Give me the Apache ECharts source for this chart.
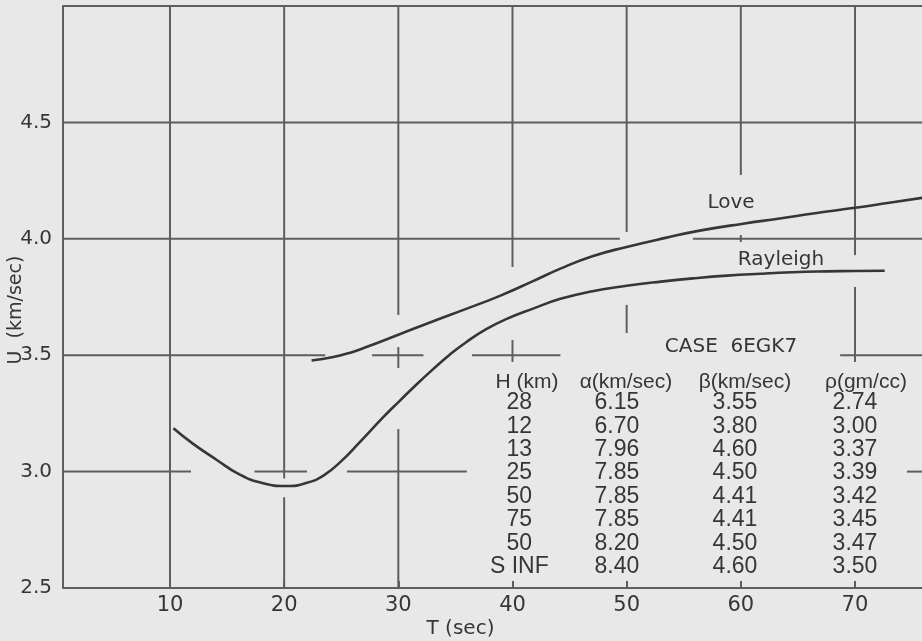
<!DOCTYPE html>
<html>
<head>
<meta charset="utf-8">
<title>CASE 6EGK7 group velocity</title>
<script src="https://cdn.jsdelivr.net/npm/echarts@6/dist/echarts.min.js"></script>
<style>
  html, body { margin: 0; padding: 0; background: #e8e8e8; }
  #main { width: 922px; height: 641px; }
</style>
</head>
<body>
<div id="main"></div>
<script>
// Tick values for both axes
const periodTicks = [10, 20, 30, 40, 50, 60, 70];
const velocityTicks = [2.5, 3.0, 3.5, 4.0, 4.5];

// Love-wave group velocity U (km/sec) against period T (sec)
const loveT = [22.4, 24.3, 25.8, 27.2, 30.0, 33.0, 36.0, 38.9, 41.8, 44.2, 47.0, 50.0, 53.5, 56.4, 60.2, 63.4, 66.5, 70.0, 73.0, 75.9];
const loveU = [3.477, 3.492, 3.511, 3.535, 3.588, 3.645, 3.70, 3.755, 3.818, 3.872, 3.925, 3.965, 4.005, 4.035, 4.065, 4.087, 4.11, 4.133, 4.155, 4.176];

// Rayleigh-wave group velocity U (km/sec) against period T (sec)
const rayleighT = [10.3, 12.0, 14.1, 16.0, 18.0, 20.2, 22.0, 23.5, 25.0, 26.5, 28.7, 30.1, 31.5, 33.0, 34.5, 36.0, 37.7, 39.5, 41.8, 44.2, 47.0, 50.0, 53.0, 55.8, 58.8, 61.7, 64.5, 67.5, 70.0, 72.6];
const rayleighU = [3.186, 3.12, 3.05, 2.99, 2.952, 2.938, 2.952, 2.985, 3.045, 3.12, 3.235, 3.303, 3.37, 3.438, 3.502, 3.558, 3.612, 3.656, 3.70, 3.742, 3.775, 3.798, 3.816, 3.83, 3.842, 3.85, 3.856, 3.86, 3.862, 3.863];

// Layered earth model, CASE 6EGK7
const modelTitle = 'CASE  6EGK7';
const modelHeaders = ['H (km)', 'α(km/sec)', 'β(km/sec)', 'ρ(gm/cc)'];
const layerH = ['28', '12', '13', '25', '50', '75', '50', 'S INF'];
const layerAlpha = ['6.15', '6.70', '7.96', '7.85', '7.85', '7.85', '8.20', '8.40'];
const layerBeta = ['3.55', '3.80', '4.60', '4.50', '4.41', '4.41', '4.50', '4.60'];
const layerRho = ['2.74', '3.00', '3.37', '3.39', '3.42', '3.45', '3.47', '3.50'];

// Axis extents
const T_MIN = 0.628, T_MAX = 75.87;
const U_MIN = 2.5, U_MAX = 5.0;

// Hand-ruled grid: horizontal rules [U, T1, T2] and vertical rules [T, U1, U2],
// broken where the curves and the lettering pass.
const horizontalRules = [
  [5.0, T_MIN, T_MAX],
  [4.5, T_MIN, T_MAX],
  [4.0, T_MIN, 49.4], [4.0, 55.8, T_MAX],
  [3.5, T_MIN, 23.6], [3.5, 27.7, 32.2], [3.5, 36.45, 44.2], [3.5, 68.7, T_MAX],
  [3.0, T_MIN, 11.84], [3.0, 17.4, 22.0], [3.0, 25.5, 36.0], [3.0, 74.55, T_MAX]
];
const verticalRules = [
  [10, U_MIN, U_MAX],
  [20, 2.97, U_MAX], [20, U_MIN, 2.89],
  [30, 3.673, U_MAX], [30, 3.445, 3.535], [30, U_MIN, 3.183],
  [40, 3.879, U_MAX], [40, 3.471, 3.565],
  [50, 4.029, U_MAX], [50, 3.595, 3.716],
  [60, 4.274, U_MAX], [60, 3.986, 4.016],
  [70, 3.93, U_MAX], [70, 3.471, 3.793]
];

const ink = '#363636';
const rule = '#5e5e5e';

const ruleSegments = horizontalRules.map(r => [r[1], r[0], r[2], r[0]])
  .concat(verticalRules.map(r => [r[0], r[1], r[0], r[2]]));

function zip(xs, ys) { return xs.map((x, i) => [x, ys[i]]); }

const chart = echarts.init(document.getElementById('main'), null, { renderer: 'canvas' });

chart.setOption({
  backgroundColor: '#e8e8e8',
  animation: false,
  grid: { left: 63, right: 0, top: 6, bottom: 53, containLabel: false, outerBoundsMode: 'none' },
  xAxis: {
    type: 'value',
    min: T_MIN,
    max: T_MAX,
    name: 'T (sec)',
    nameLocation: 'middle',
    nameGap: 31,
    nameMoveOverlap: false,
    nameTextStyle: { fontFamily: 'DejaVu Sans', fontSize: 20, color: ink, padding: [0, 64, 0, 0] },
    axisLine: { show: true, lineStyle: { color: rule, width: 2 } },
    axisTick: { show: true, inside: true, length: 7, customValues: periodTicks, lineStyle: { color: rule, width: 2 } },
    axisLabel: { customValues: periodTicks, margin: 7, fontFamily: 'DejaVu Sans', fontSize: 21, color: ink },
    splitLine: { show: false }
  },
  yAxis: {
    type: 'value',
    min: U_MIN,
    max: U_MAX,
    interval: 0.5,
    name: 'U  (km/sec)',
    nameLocation: 'middle',
    nameGap: 37,
    nameRotate: 90,
    nameMoveOverlap: false,
    nameTextStyle: { fontFamily: 'DejaVu Sans', fontSize: 19, color: ink, padding: [0, 26, 0, 0] },
    axisLine: { show: true, lineStyle: { color: rule, width: 2 } },
    axisTick: { show: false },
    axisLabel: {
      margin: 11,
      fontFamily: 'DejaVu Sans',
      fontSize: 20,
      color: ink,
      formatter: v => (velocityTicks.some(t => Math.abs(t - v) < 1e-6) ? v.toFixed(1) : '')
    },
    splitLine: { show: false }
  },
  series: [
    {
      type: 'custom',
      name: 'rules',
      silent: true,
      z: 1,
      encode: { x: [0, 2], y: [1, 3] },
      data: ruleSegments,
      renderItem: function (params, api) {
        const a = api.coord([api.value(0), api.value(1)]);
        const b = api.coord([api.value(2), api.value(3)]);
        return {
          type: 'line',
          shape: { x1: a[0], y1: a[1], x2: b[0], y2: b[1] },
          style: { stroke: rule, lineWidth: 2 }
        };
      }
    },
    {
      type: 'line',
      name: 'Love',
      data: zip(loveT, loveU),
      smooth: 0.5,
      showSymbol: false,
      symbol: 'none',
      z: 3,
      lineStyle: { color: ink, width: 2.6 }
    },
    {
      type: 'line',
      name: 'Rayleigh',
      data: zip(rayleighT, rayleighU),
      smooth: 0.5,
      showSymbol: false,
      symbol: 'none',
      z: 3,
      lineStyle: { color: ink, width: 2.6 }
    }
  ]
});

// Lettering placed in data coordinates
function at(t, u) { return chart.convertToPixel({ gridIndex: 0 }, [t, u]); }

function label(text, t, u, font, spacing) {
  const p = at(t, u);
  return {
    type: 'text',
    x: p[0],
    y: p[1],
    z: 10,
    style: {
      text: text,
      fill: ink,
      font: font,
      align: 'center',
      verticalAlign: 'middle',
      letterSpacing: spacing || 0
    }
  };
}

const graphics = [];
graphics.push(label('Love', 59.14, 4.154, '20px "DejaVu Sans"', 1.5));
graphics.push(label('Rayleigh', 63.52, 3.909, '20px "DejaVu Sans"', 1.5));
graphics.push(label(modelTitle, 59.14, 3.535, '20px "DejaVu Sans"', 3));

const headerT = [41.27, 49.94, 60.36, 70.96];
modelHeaders.forEach((h, i) => graphics.push(label(h, headerT[i], 3.385, '21px "Liberation Sans"', 0.5)));

const columnT = [40.6, 49.15, 59.49, 70.0];
const columns = [layerH, layerAlpha, layerBeta, layerRho];
const rowU0 = 3.295, rowStep = 0.1005;
columns.forEach((col, c) => {
  col.forEach((v, r) => {
    graphics.push(label(v, columnT[c], rowU0 - r * rowStep, '23px "Liberation Sans"', 0.5));
  });
});

chart.setOption({ graphic: graphics });
</script>
</body>
</html>
